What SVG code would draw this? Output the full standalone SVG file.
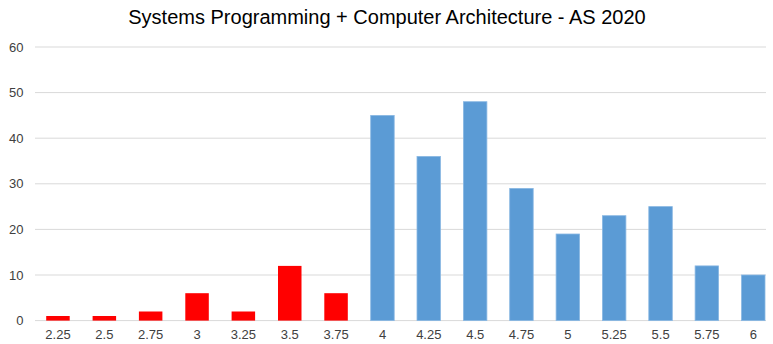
<svg xmlns="http://www.w3.org/2000/svg" width="773" height="344" viewBox="0 0 773 344">
<style>
text{font-family:"Liberation Sans",Arial,sans-serif;fill:#404040}
.t{font-size:20px;fill:#000}
.y{font-size:13px;text-anchor:end}
.x{font-size:13px;text-anchor:middle}
.g{stroke:#d9d9d9;stroke-width:1}
.r{fill:#ff0000}
.b{fill:#5b9bd5;stroke:#8ab8e3;stroke-width:0.8}
</style>
<rect width="773" height="344" fill="#fff"/>
<text class="t" x="387" y="24" text-anchor="middle">Systems Programming + Computer Architecture - AS 2020</text>
<g id="grid">
<line class="g" x1="35" y1="47" x2="766" y2="47"/>
<line class="g" x1="35" y1="92.6" x2="766" y2="92.6"/>
<line class="g" x1="35" y1="138.2" x2="766" y2="138.2"/>
<line class="g" x1="35" y1="183.8" x2="766" y2="183.8"/>
<line class="g" x1="35" y1="229.4" x2="766" y2="229.4"/>
<line class="g" x1="35" y1="275" x2="766" y2="275"/>
<line class="g" x1="35" y1="320.6" x2="766" y2="320.6"/>
</g>
<g id="yaxis">
<text class="y" x="23.5" y="52">60</text>
<text class="y" x="23.5" y="97">50</text>
<text class="y" x="23.5" y="143">40</text>
<text class="y" x="23.5" y="188">30</text>
<text class="y" x="23.5" y="234">20</text>
<text class="y" x="23.5" y="280">10</text>
<text class="y" x="23.5" y="325">0</text>
</g>
<g id="bars">
<rect class="r" x="46.2" y="316.0" width="23.5" height="4.6"/>
<rect class="r" x="92.6" y="316.0" width="23.5" height="4.6"/>
<rect class="r" x="138.9" y="311.5" width="23.5" height="9.1"/>
<rect class="r" x="185.3" y="293.2" width="23.5" height="27.4"/>
<rect class="r" x="231.6" y="311.5" width="23.5" height="9.1"/>
<rect class="r" x="278.0" y="265.9" width="23.5" height="54.7"/>
<rect class="r" x="324.3" y="293.2" width="23.5" height="27.4"/>
<rect class="b" x="370.7" y="115.4" width="23.5" height="205.2"/>
<rect class="b" x="417.0" y="156.4" width="23.5" height="164.2"/>
<rect class="b" x="463.4" y="101.7" width="23.5" height="218.9"/>
<rect class="b" x="509.7" y="188.4" width="23.5" height="132.2"/>
<rect class="b" x="556.1" y="234.0" width="23.5" height="86.6"/>
<rect class="b" x="602.4" y="215.7" width="23.5" height="104.9"/>
<rect class="b" x="648.8" y="206.6" width="23.5" height="114.0"/>
<rect class="b" x="695.1" y="265.9" width="23.5" height="54.7"/>
<rect class="b" x="741.5" y="275.0" width="23.5" height="45.6"/>
</g>
<g id="xaxis">
<text class="x" x="58" y="338.5">2.25</text>
<text class="x" x="104.4" y="338.5">2.5</text>
<text class="x" x="150.7" y="338.5">2.75</text>
<text class="x" x="197.1" y="338.5">3</text>
<text class="x" x="243.4" y="338.5">3.25</text>
<text class="x" x="289.8" y="338.5">3.5</text>
<text class="x" x="336.1" y="338.5">3.75</text>
<text class="x" x="382.5" y="338.5">4</text>
<text class="x" x="428.8" y="338.5">4.25</text>
<text class="x" x="475.2" y="338.5">4.5</text>
<text class="x" x="521.5" y="338.5">4.75</text>
<text class="x" x="567.9" y="338.5">5</text>
<text class="x" x="614.2" y="338.5">5.25</text>
<text class="x" x="660.6" y="338.5">5.5</text>
<text class="x" x="706.9" y="338.5">5.75</text>
<text class="x" x="753.3" y="338.5">6</text>
</g>
</svg>
